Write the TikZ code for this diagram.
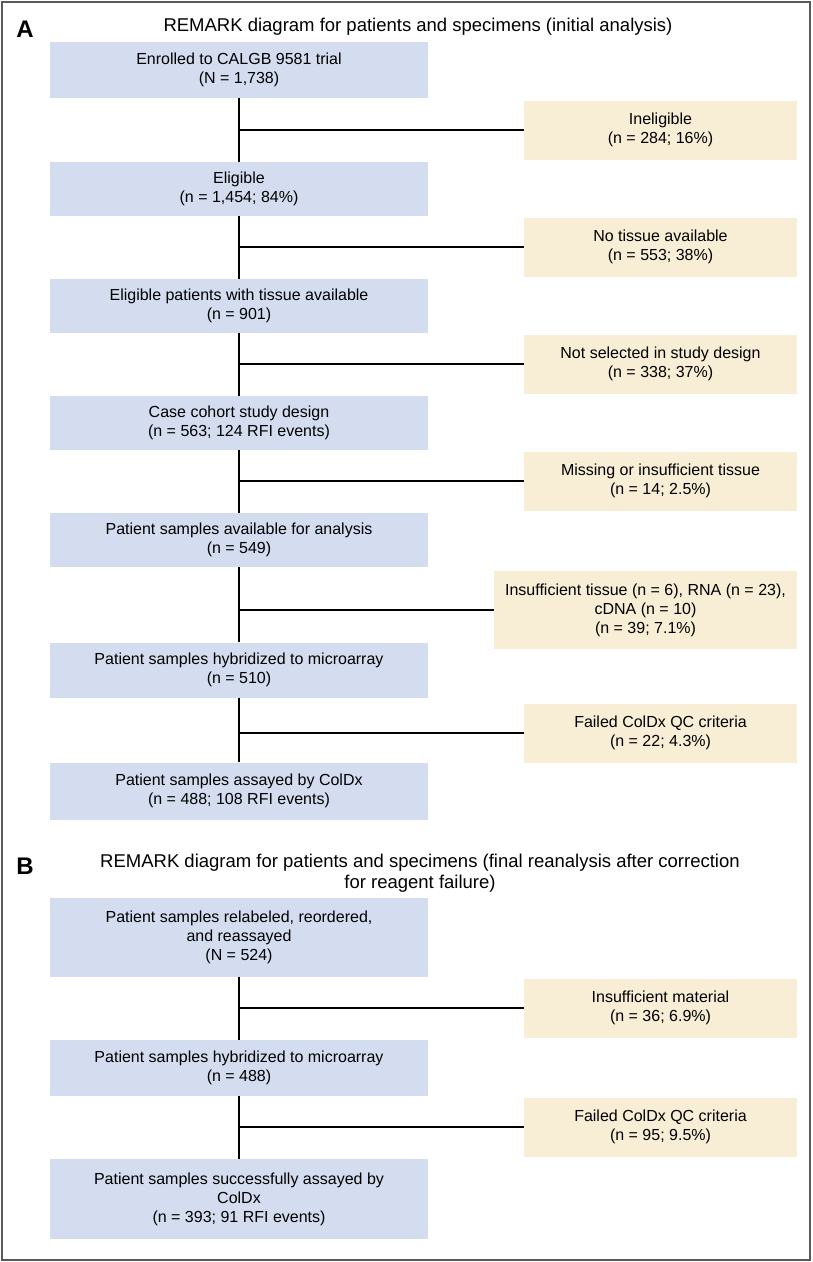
\documentclass[tikz,border=0pt]{standalone}
\usepackage{fontspec}
\setmainfont{Liberation Sans}
\definecolor{boxblue}{RGB}{212,221,240}
\definecolor{boxtan}{RGB}{248,238,214}
\definecolor{framegray}{RGB}{90,90,90}
\begin{document}
\begin{tikzpicture}[x=1pt,y=-1pt,
  bluebox/.style={fill=boxblue,draw=none,minimum width=378pt,inner sep=0pt,align=center,font=\fontsize{16}{19}\selectfont},
  tanbox/.style={fill=boxtan,draw=none,minimum width=273pt,minimum height=59pt,inner sep=0pt,align=center,font=\fontsize{16}{19}\selectfont},
  conn/.style={line width=2pt,black},
  paneltitle/.style={align=center,font=\fontsize{18.5}{21.5}\selectfont},
  panelletter/.style={font=\fontsize{24}{28}\selectfont\bfseries}]
\useasboundingbox (0,0) rectangle (812,1262);
\draw[framegray,line width=2pt] (1.5,1.5) rectangle (810,1260);

% Panel A
\node[panelletter] (la) at (25,29) {A};
\node[paneltitle] (ta) at (418,27) {REMARK diagram for patients and specimens (initial analysis)};

\node[bluebox,minimum height=56pt] (a1) at (239,70) {Enrolled to CALGB 9581 trial\\(N = 1,738)};
\node[tanbox] (x1) at (660.5,130) {Ineligible\\(n = 284; 16\%)};
\node[bluebox,minimum height=54pt] (a2) at (239,189) {Eligible\\(n = 1,454; 84\%)};
\node[tanbox] (x2) at (660.5,247) {No tissue available\\(n = 553; 38\%)};
\node[bluebox,minimum height=54pt] (a3) at (239,306) {Eligible patients with tissue available\\(n = 901)};
\node[tanbox] (x3) at (660.5,364) {Not selected in study design\\(n = 338; 37\%)};
\node[bluebox,minimum height=54pt] (a4) at (239,423) {Case cohort study design\\(n = 563; 124 RFI events)};
\node[tanbox] (x4) at (660.5,481) {Missing or insufficient tissue\\(n = 14; 2.5\%)};
\node[bluebox,minimum height=54pt] (a5) at (239,540) {Patient samples available for analysis\\(n = 549)};
\node[tanbox,minimum width=303pt,minimum height=78pt] (x5) at (645.5,610) {Insufficient tissue (n = 6), RNA (n = 23),\\cDNA (n = 10)\\(n = 39; 7.1\%)};
\node[bluebox,minimum height=55pt] (a6) at (239,670) {Patient samples hybridized to microarray\\(n = 510)};
\node[tanbox] (x6) at (660.5,733) {Failed ColDx QC criteria\\(n = 22; 4.3\%)};
\node[bluebox,minimum height=57pt] (a7) at (239,791) {Patient samples assayed by ColDx\\(n = 488; 108 RFI events)};

\foreach \u/\v in {a1/a2,a2/a3,a3/a4,a4/a5,a5/a6,a6/a7}
  \draw[conn] (\u.south) -- (\v.north);
\foreach \u/\x in {a1/x1,a2/x2,a3/x3,a4/x4,a5/x5,a6/x6}
  \draw[conn] (\u.south |- \x.west) -- (\x.west);

% Panel B
\node[panelletter] (lb) at (25,866) {B};
\node[paneltitle] (tb) at (420,873) {REMARK diagram for patients and specimens (final reanalysis after correction\\for reagent failure)};

\node[bluebox,minimum height=79pt] (b1) at (239,937) {Patient samples relabeled, reordered,\\and reassayed\\(N = 524)};
\node[tanbox] (y1) at (660.5,1008) {Insufficient material\\(n = 36; 6.9\%)};
\node[bluebox,minimum height=56pt] (b2) at (239,1068) {Patient samples hybridized to microarray\\(n = 488)};
\node[tanbox] (y2) at (660.5,1127) {Failed ColDx QC criteria\\(n = 95; 9.5\%)};
\node[bluebox,minimum height=80pt] (b3) at (239,1199) {Patient samples successfully assayed by\\ColDx\\(n = 393; 91 RFI events)};

\foreach \u/\v in {b1/b2,b2/b3}
  \draw[conn] (\u.south) -- (\v.north);
\foreach \u/\x in {b1/y1,b2/y2}
  \draw[conn] (\u.south |- \x.west) -- (\x.west);
\end{tikzpicture}
\end{document}
